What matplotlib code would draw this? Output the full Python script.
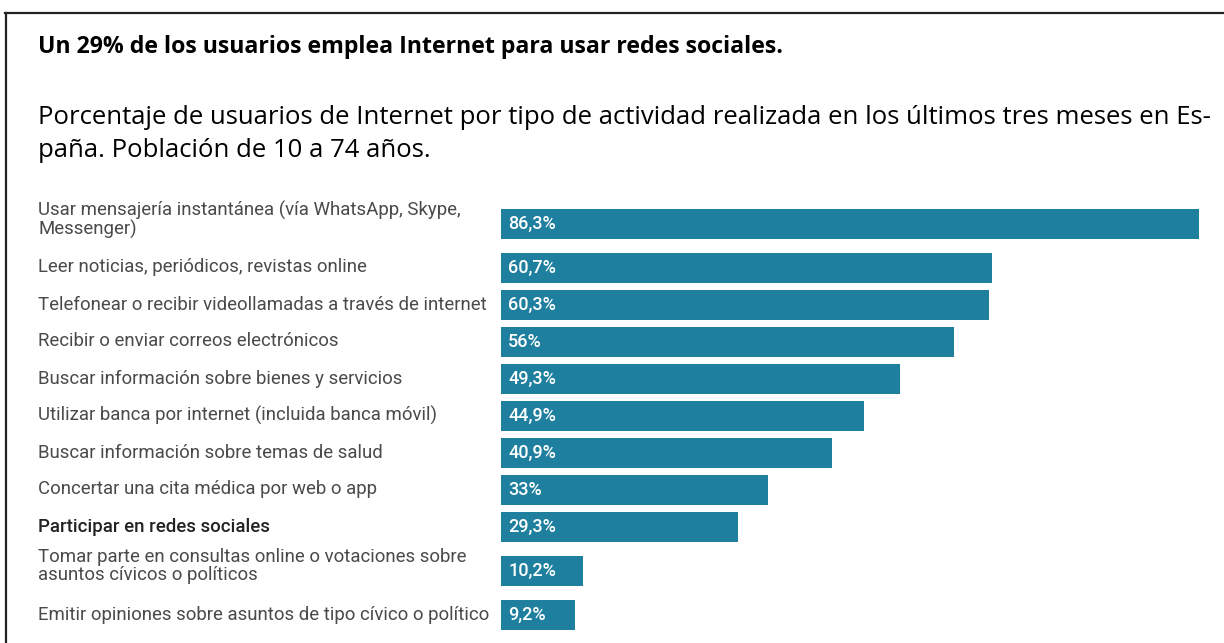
import matplotlib
matplotlib.use("Agg")
import matplotlib.pyplot as plt
from matplotlib import transforms
from matplotlib.lines import Line2D

title = "Un 29% de los usuarios emplea Internet para usar redes sociales."
subtitle = ("Porcentaje de usuarios de Internet por tipo de actividad realizada en los últimos tres meses en Es-\n"
            "paña. Población de 10 a 74 años.")

categories = [
    "Usar mensajería instantánea (vía WhatsApp, Skype,\nMessenger)",
    "Leer noticias, periódicos, revistas online",
    "Telefonear o recibir videollamadas a través de internet",
    "Recibir o enviar correos electrónicos",
    "Buscar información sobre bienes y servicios",
    "Utilizar banca por internet (incluida banca móvil)",
    "Buscar información sobre temas de salud",
    "Concertar una cita médica por web o app",
    "Participar en redes sociales",
    "Tomar parte en consultas online o votaciones sobre\nasuntos cívicos o políticos",
    "Emitir opiniones sobre asuntos de tipo cívico o político",
]
values = [86.3, 60.7, 60.3, 56, 49.3, 44.9, 40.9, 33, 29.3, 10.2, 9.2]
highlight = "Participar en redes sociales"

W, H = 1224, 643
fig = plt.figure(figsize=(W / 100, H / 100), dpi=100)
fig.patch.set_facecolor("white")

# layout (pixel units)
bar_left, bar_right = 501, 1199
ax = fig.add_axes([bar_left / W, 0, (bar_right - bar_left) / W, 1])
ax.set_xlim(0, max(values))
ax.set_ylim(H, 0)
ax.axis("off")

row_h = [51 if "\n" in c else 37 for c in categories]
centers = []
c = 223.5
for i, h in enumerate(row_h):
    if i > 0:
        c += (row_h[i - 1] + h) / 2
    centers.append(c)

bar_color = "#1f7f9e"
ax.barh(centers, values, height=30, color=bar_color, align="center")

for y, v in zip(centers, values):
    lab = f"{v:g}".replace(".", ",") + "%"
    ax.text(0.9, y + 0.5, lab, color="white", fontsize=13, fontfamily="Roboto",
            fontweight="medium", va="center", ha="left")

trans = transforms.blended_transform_factory(fig.transFigure, ax.transData)
for y, cat in zip(centers, categories):
    bold = cat == highlight
    ax.text(38 / W, y - (4 if "\n" in cat else 0), cat, transform=trans,
            fontsize=13.45, fontfamily="Roboto",
            fontweight="medium" if bold else "normal",
            color="#222222" if bold else "#4a4a4a",
            va="center", ha="left", linespacing=1.0)

fig.text(38 / W, 1 - 47 / H, title, fontsize=16.65, fontfamily="Open Sans",
         fontweight="bold", color="black", va="center", ha="left")
fig.text(38 / W, 1 - 134 / H, subtitle, fontsize=18.5, fontfamily="Open Sans",
         color="black", va="center", ha="left", linespacing=1.42)

# frame
fig.add_artist(Line2D([5 / W, 1], [1 - 13 / H, 1 - 13 / H], transform=fig.transFigure,
                      color="#222222", lw=1.6))
fig.add_artist(Line2D([5.5 / W, 5.5 / W], [1 - 13 / H, 0], transform=fig.transFigure,
                      color="#222222", lw=1.6))

fig.savefig("out.png", dpi=100, facecolor="white")
